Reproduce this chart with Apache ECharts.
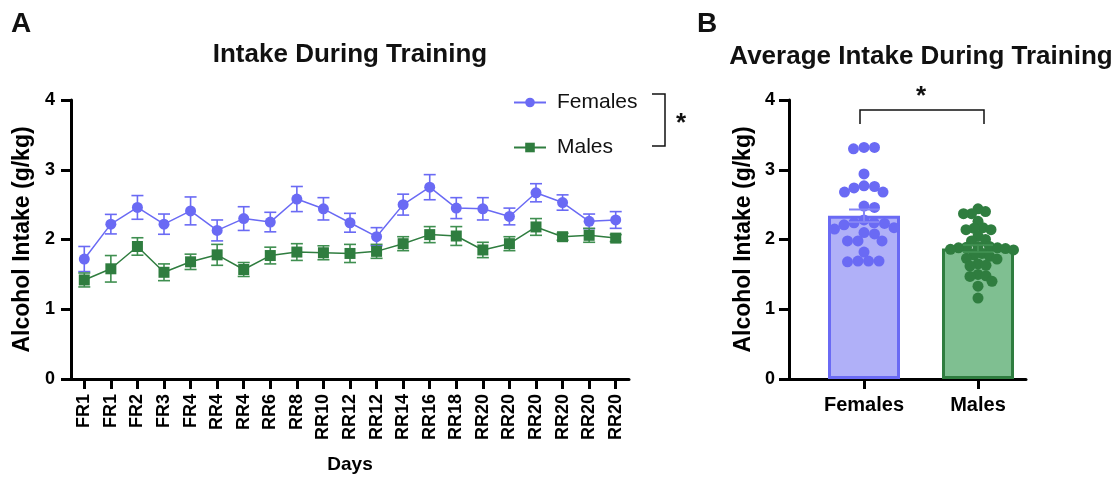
<!DOCTYPE html>
<html>
<head>
<meta charset="utf-8">
<script src="https://cdn.jsdelivr.net/npm/echarts@6/dist/echarts.min.js"></script>
<style>
  html, body { margin: 0; padding: 0; background: #fff; }
  #chart { width: 1119px; height: 486px; }
</style>
</head>
<body>
<div id="chart"></div>
<script>
// Training days (x categories of panel A)
const days = ['FR1','FR1','FR2','FR3','FR4','RR4','RR4','RR6','RR8','RR10','RR12','RR12','RR14','RR16','RR18','RR20','RR20','RR20','RR20','RR20','RR20'];

// Daily intake, mean and SEM (g/kg)
const femaleMeans = [1.72,2.22,2.46,2.22,2.41,2.13,2.30,2.25,2.58,2.44,2.24,2.04,2.50,2.75,2.45,2.44,2.33,2.67,2.53,2.26,2.28];
const femaleSem   = [0.18,0.14,0.17,0.145,0.20,0.15,0.17,0.14,0.18,0.16,0.135,0.13,0.15,0.18,0.15,0.16,0.12,0.13,0.11,0.105,0.12];
const maleMeans   = [1.42,1.58,1.90,1.53,1.68,1.78,1.57,1.77,1.82,1.81,1.80,1.83,1.94,2.07,2.05,1.85,1.94,2.18,2.04,2.06,2.02];
const maleSem     = [0.10,0.19,0.125,0.12,0.11,0.15,0.10,0.12,0.12,0.10,0.13,0.10,0.10,0.115,0.135,0.11,0.10,0.12,0.05,0.10,0.05];

// Panel B: groups, average intake per animal, group mean and SEM
const groups = ['Females', 'Males'];
const femaleAnimals = [3.32,3.32,3.30,2.94,2.77,2.76,2.74,2.68,2.68,2.48,2.46,2.28,2.24,2.24,2.23,2.21,2.17,2.15,2.10,2.08,1.98,1.98,1.98,1.82,1.69,1.69,1.69,1.68];
const maleAnimals = [2.44,2.40,2.37,2.37,2.26,2.17,2.16,2.14,2.14,2.05,2.00,1.98,1.90,1.90,1.89,1.88,1.88,1.87,1.86,1.85,1.80,1.78,1.76,1.73,1.72,1.65,1.63,1.62,1.50,1.48,1.47,1.40,1.33,1.16];
const groupMeans = [2.34, 1.87];
const groupSem = [0.09, 0.05];

const yTicks = [0, 1, 2, 3, 4];

const FONT = "'Liberation Sans', Arial, Helvetica, sans-serif";
const F_COLOR = '#6a6af4';
const F_LIGHT = '#b0b0f8';
const M_COLOR = '#2f7d3f';
const M_LIGHT = '#7fbf91';

// Plot geometry (px)
const GA = { left: 71, top: 100, width: 558, height: 279 };
const GB = { left: 789, top: 100, width: 237, height: 279 };
const PX_PER_UNIT = GA.height / 4;
const B_SPACING = 114;                 // px between group centres in panel B
const B_MIN = 1 - 75 / B_SPACING;      // first group sits 75px right of the y axis
const B_MAX = B_MIN + GB.width / B_SPACING;

// Beeswarm: spread points horizontally, allowing a given share of overlap
function swarm(vals, radius, packing) {
  const placed = [];
  const minD = radius * 2 * packing;
  const order = vals.map((v, i) => i).sort((a, b) => vals[b] - vals[a]);
  const out = new Array(vals.length);
  order.forEach(i => {
    const y = vals[i] * PX_PER_UNIT;
    let chosen = 0;
    for (let k = 0; k < 400; k++) {
      const cands = k === 0 ? [0] : [k * 0.5, -k * 0.5];
      let ok = false;
      for (const dx of cands) {
        if (placed.every(p => (p.dx - dx) ** 2 + (p.y - y) ** 2 >= minD * minD)) {
          chosen = dx; ok = true; break;
        }
      }
      if (ok) break;
    }
    placed.push({ dx: chosen, y });
    out[i] = chosen;
  });
  return out;
}

function dotData(vals, centre, packing) {
  const offs = swarm(vals, 5.5, packing);
  return vals.map((v, i) => [centre + offs[i] / B_SPACING, v]);
}

// Vertical error bar with caps
function errorBar(color, capHalf, lw) {
  return function (params, api) {
    const x = api.value(0), m = api.value(1), s = api.value(2);
    const hi = api.coord([x, m + s]);
    const lo = api.coord([x, m - s]);
    const st = { stroke: color, lineWidth: lw };
    return {
      type: 'group',
      children: [
        { type: 'line', shape: { x1: hi[0], y1: hi[1], x2: lo[0], y2: lo[1] }, style: st },
        { type: 'line', shape: { x1: hi[0] - capHalf, y1: hi[1], x2: hi[0] + capHalf, y2: hi[1] }, style: st },
        { type: 'line', shape: { x1: lo[0] - capHalf, y1: lo[1], x2: lo[0] + capHalf, y2: lo[1] }, style: st }
      ]
    };
  };
}

const axisLine = { show: true, lineStyle: { color: '#000', width: 3 } };
const axisTick = { show: true, length: 10, lineStyle: { color: '#000', width: 3 } };
const yName = 'Alcohol Intake (g/kg)';

function yAxisDef(gridIndex, gap, margin) {
  return {
    type: 'value', gridIndex, min: 0, max: 4, interval: 1,
    axisLine, axisTick, splitLine: { show: false },
    axisLabel: { color: '#000', fontFamily: FONT, fontWeight: 'bold', fontSize: 18, margin,
      formatter: v => yTicks.includes(v) ? String(v) : '' },
    name: yName, nameLocation: 'middle', nameGap: gap, nameRotate: 90,
    nameTextStyle: { color: '#000', fontFamily: FONT, fontWeight: 'bold', fontSize: 23 }
  };
}

const option = {
  backgroundColor: '#fff',
  animation: false,
  grid: [
    { left: GA.left, top: GA.top, width: GA.width, height: GA.height, containLabel: false },
    { left: GB.left, top: GB.top, width: GB.width, height: GB.height, containLabel: false }
  ],
  xAxis: [
    {
      type: 'category', gridIndex: 0, data: days, boundaryGap: true,
      axisLine, axisTick: Object.assign({ alignWithLabel: true }, axisTick),
      axisLabel: { color: '#000', fontFamily: FONT, fontWeight: 'bold', fontSize: 18, rotate: 90, margin: 15, interval: 0 },
      name: 'Days', nameLocation: 'middle', nameGap: 76,
      nameTextStyle: { color: '#000', fontFamily: FONT, fontWeight: 'bold', fontSize: 19 }
    },
    {
      type: 'value', gridIndex: 1, min: B_MIN, max: B_MAX,
      axisLine, splitLine: { show: false },
      axisTick: Object.assign({ customValues: [1, 2] }, axisTick),
      axisLabel: { customValues: [1, 2], color: '#000', fontFamily: FONT, fontWeight: 'bold', fontSize: 20, margin: 16,
        formatter: v => groups[Math.round(v) - 1] || '' }
    }
  ],
  yAxis: [ yAxisDef(0, 37, 16), yAxisDef(1, 34, 14) ],
  legend: {
    data: ['Females', 'Males'], orient: 'vertical', left: 508, top: 87,
    itemWidth: 32, itemHeight: 12, itemGap: 24,
    textStyle: { color: '#111', fontFamily: FONT, fontSize: 21, padding: [0, 0, 0, 6] }
  },
  series: [
    {
      name: 'Females SEM', type: 'custom', xAxisIndex: 0, yAxisIndex: 0, z: 2,
      renderItem: errorBar(F_COLOR, 6, 1.6),
      encode: { x: 0, y: [1] },
      data: femaleMeans.map((m, i) => [i, m, femaleSem[i]])
    },
    {
      name: 'Males SEM', type: 'custom', xAxisIndex: 0, yAxisIndex: 0, z: 2,
      renderItem: errorBar('#3f8f50', 6, 1.6),
      encode: { x: 0, y: [1] },
      data: maleMeans.map((m, i) => [i, m, maleSem[i]])
    },
    {
      name: 'Females', type: 'line', xAxisIndex: 0, yAxisIndex: 0, z: 3,
      data: femaleMeans, symbol: 'circle', symbolSize: 11,
      itemStyle: { color: F_COLOR }, lineStyle: { color: F_COLOR, width: 1.5 }
    },
    {
      name: 'Males', type: 'line', xAxisIndex: 0, yAxisIndex: 0, z: 3,
      data: maleMeans, symbol: 'rect', symbolSize: 11,
      itemStyle: { color: M_COLOR }, lineStyle: { color: M_COLOR, width: 1.5 }
    },
    {
      name: 'Group mean', type: 'bar', xAxisIndex: 1, yAxisIndex: 1, barWidth: 72, z: 2,
      data: [
        { value: [1, groupMeans[0]], itemStyle: { color: F_LIGHT, borderColor: F_COLOR, borderWidth: 3 } },
        { value: [2, groupMeans[1]], itemStyle: { color: M_LIGHT, borderColor: M_COLOR, borderWidth: 3 } }
      ]
    },
    {
      name: 'Female animals', type: 'scatter', xAxisIndex: 1, yAxisIndex: 1, z: 4,
      symbolSize: 11, itemStyle: { color: F_COLOR, opacity: 1 },
      data: dotData(femaleAnimals, 1, 0.92)
    },
    {
      name: 'Male animals', type: 'scatter', xAxisIndex: 1, yAxisIndex: 1, z: 4,
      symbolSize: 11, itemStyle: { color: M_COLOR, opacity: 1 },
      data: dotData(maleAnimals, 2, 0.72)
    },
    {
      name: 'Group SEM', type: 'custom', xAxisIndex: 1, yAxisIndex: 1, z: 5,
      renderItem: function (params, api) {
        const idx = params.dataIndex;
        return errorBar(idx === 0 ? '#8585f6' : '#3f8f50', 15, 2)(params, api);
      },
      encode: { x: 0, y: [1] },
      data: groupMeans.map((m, i) => [i + 1, m, groupSem[i]])
    }
  ],
  graphic: [
    { type: 'text', left: 11, top: 10, style: { text: 'A', font: `bold 28px ${FONT}`, fill: '#111' } },
    { type: 'text', left: 697, top: 10, style: { text: 'B', font: `bold 28px ${FONT}`, fill: '#111' } },
    { type: 'text', x: 350, y: 55, style: { text: 'Intake During Training', font: `bold 26px ${FONT}`, fill: '#111', align: 'center', verticalAlign: 'middle' } },
    { type: 'text', x: 921, y: 57, style: { text: 'Average Intake During Training', font: `bold 26px ${FONT}`, fill: '#111', align: 'center', verticalAlign: 'middle' } },
    // significance bracket next to the legend
    { type: 'polyline', shape: { points: [[652, 94], [665, 94], [665, 146], [652, 146]] }, style: { stroke: '#111', lineWidth: 1.5, fill: null } },
    { type: 'text', x: 681, y: 124, style: { text: '*', font: `bold 26px ${FONT}`, fill: '#111', align: 'center', verticalAlign: 'middle' } },
    // significance bracket between groups
    { type: 'polyline', shape: { points: [[860, 124], [860, 110], [984, 110], [984, 124]] }, style: { stroke: '#111', lineWidth: 1.5, fill: null } },
    { type: 'text', x: 921, y: 97, style: { text: '*', font: `bold 26px ${FONT}`, fill: '#111', align: 'center', verticalAlign: 'middle' } }
  ]
};

const chart = echarts.init(document.getElementById('chart'), null, { renderer: 'canvas' });
chart.setOption(option);
</script>
</body>
</html>
